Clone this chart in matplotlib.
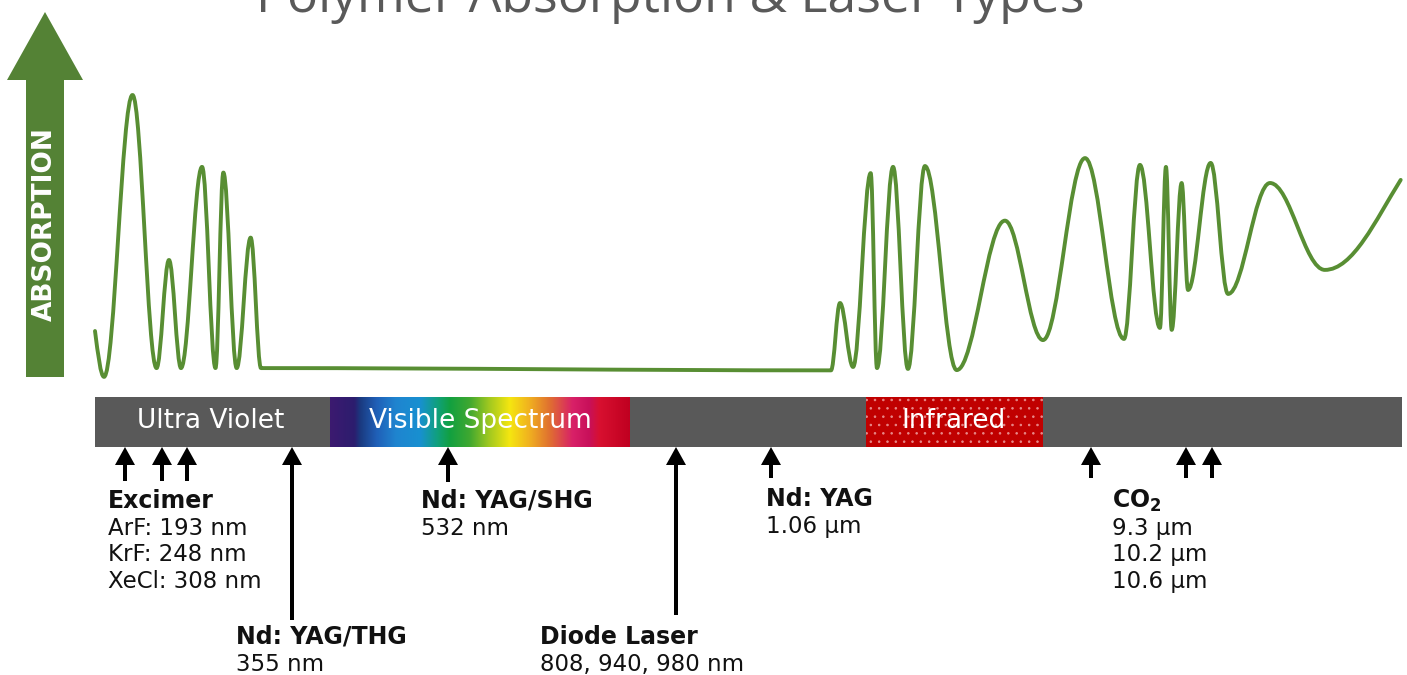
import numpy as np
import matplotlib
matplotlib.use("Agg")
import matplotlib.pyplot as plt
from matplotlib.path import Path
from matplotlib.patches import PathPatch, Rectangle
from matplotlib.colors import LinearSegmentedColormap

plt.rcParams["hatch.linewidth"] = 0.6

# ---------------- data ----------------
title = "Polymer Absorption & Laser Types"
y_label = "ABSORPTION"

# absorption curve: extrema
# spectral position (0-100 along the band) and absorption (0-100)
curve_pos = [0.0, 0.69, 2.87, 4.71, 5.66, 6.58, 8.19, 9.22, 9.82, 10.84, 11.91, 12.70,
             56.31, 57.0, 58.0, 59.35, 59.83, 61.06, 62.2, 63.5, 65.93, 69.62, 72.53,
             75.75, 78.73, 79.95, 81.48, 81.94, 82.38, 83.14, 83.63, 85.36, 86.69,
             89.9, 94.1, 99.9]
curve_abs = [16.6, 0.4, 100.0, 3.5, 41.7, 3.5, 74.6, 3.5, 72.6, 3.5, 49.6, 3.5,
             2.7, 26.5, 3.9, 72.4, 3.5, 74.6, 3.2, 74.9, 2.8, 55.6, 13.4,
             77.7, 13.8, 75.3, 17.7, 74.6, 17.0, 68.9, 31.1, 76.0, 29.7,
             68.9, 38.2, 70.0]

bands = ["Ultra Violet", "Visible Spectrum", "Infrared"]

laser_titles = ["Excimer", "Nd: YAG/THG", "Nd: YAG/SHG", "Diode Laser", "Nd: YAG",
                r"CO$_{\mathbf{2}}$"]
laser_lines = [["ArF: 193 nm", "KrF: 248 nm", "XeCl: 308 nm"],
               ["355 nm"],
               ["532 nm"],
               ["808, 940, 980 nm"],
               ["1.06 \u00b5m"],
               ["9.3 \u00b5m", "10.2 \u00b5m", "10.6 \u00b5m"]]

# ---------------- layout ----------------
W, H = 1407, 675
fig = plt.figure(figsize=(W / 100, H / 100), dpi=100)
ax = fig.add_axes([0, 0, 1, 1])
ax.set_xlim(0, W)
ax.set_ylim(H, 0)
ax.axis("off")

TXT = "#111111"
GREEN_ARROW = "#548235"
GREEN_LINE = "#588e33"
GRAY = "#595959"

# title (cut at the top, as in the reference)
ax.text(670, 12, title, ha="center", va="baseline", fontsize=37.3,
        color=GRAY, family=["Open Sans", "DejaVu Sans"])

# ABSORPTION arrow
ax.arrow(45, 377, 0, -365, width=38, head_width=76, head_length=68,
         length_includes_head=True, color=GREEN_ARROW, lw=0)
ax.text(45, 224, y_label, rotation=90, ha="center", va="center",
        color="white", fontsize=19, fontweight="bold")

# spectrum band
bar_x0, bar_x1, bar_y0, bar_y1 = 95, 1402, 397, 447
ax.add_patch(Rectangle((bar_x0, bar_y0), bar_x1 - bar_x0, bar_y1 - bar_y0,
                       facecolor=GRAY, edgecolor="none", zorder=1))

stops = [(0.0, "#3c1a70"), (0.08, "#2c1d6e"), (0.10, "#1a3a80"), (0.155, "#2060b8"),
         (0.22, "#1f85d0"), (0.30, "#1890d0"), (0.355, "#10a080"), (0.40, "#12a040"),
         (0.466, "#40a830"), (0.53, "#a0c820"), (0.60, "#f5e610"), (0.666, "#f0b020"),
         (0.733, "#e07030"), (0.81, "#d82068"), (0.866, "#c8105a"), (0.90, "#d81030"),
         (1.0, "#c00020")]
cmap = LinearSegmentedColormap.from_list("vis", stops)
grad = np.linspace(0, 1, 512)[None, :]
ax.imshow(grad, cmap=cmap, aspect="auto", extent=(330, 630, bar_y1, bar_y0),
          zorder=2, interpolation="bilinear")
ax.set_xlim(0, W)
ax.set_ylim(H, 0)

ax.add_patch(Rectangle((866, bar_y0), 1043 - 866, bar_y1 - bar_y0,
                       facecolor="#c00000", edgecolor="#e88a8a", lw=0,
                       hatch="..", zorder=2))

band_x = [211, 480, 954]
for name, bx in zip(bands, band_x):
    ax.text(bx, 421, name, ha="center", va="center", color="white",
            fontsize=19, zorder=5)

# laser arrows
def up_arrow(x, tail):
    ax.arrow(x, tail, 0, bar_y1 - tail, width=4, head_width=20, head_length=18,
             length_includes_head=True, color="black", lw=0, zorder=4)

for x in [125, 162, 187]:
    up_arrow(x, 481)
up_arrow(292, 620)
up_arrow(448, 482)
up_arrow(676, 615)
up_arrow(771, 478)
for x in [1091, 1186, 1212]:
    up_arrow(x, 478)

label_xy = [(108, 508), (236, 644), (421, 508), (540, 644), (766, 506), (1112, 508)]
step = 26.7
FS = 16.5
for t, lines, (lx, ly) in zip(laser_titles, laser_lines, label_xy):
    ax.text(lx, ly, t, ha="left", va="baseline", fontsize=17,
            fontweight="bold", color=TXT)
    for i, ln in enumerate(lines):
        ax.text(lx, ly + step * (i + 1), ln, ha="left", va="baseline",
                fontsize=FS, color=TXT)

# ---------------- absorption curve ----------------
axc = fig.add_axes([95 / W, (H - 378) / H, 1307 / W, 283 / H])
axc.set_xlim(0, 100)
axc.set_ylim(0, 100)
axc.axis("off")
axc.patch.set_alpha(0)

k = 0.37
n = len(curve_pos)
verts = [(curve_pos[0], curve_abs[0])]
codes = [Path.MOVETO]
for i in range(n - 1):
    x0, y0 = curve_pos[i], curve_abs[i]
    x1, y1 = curve_pos[i + 1], curve_abs[i + 1]
    dx = x1 - x0
    if i == 0:
        c1 = (x0 + dx / 3, y0 + (y1 - y0) / 2)
    else:
        c1 = (x0 + k * dx, y0)
    if i == n - 2:
        c2 = (x1 - dx / 3, y1 - (y1 - y0) * 0.45)
    else:
        c2 = (x1 - k * dx, y1)
    verts += [c1, c2, (x1, y1)]
    codes += [Path.CURVE4] * 3
axc.add_patch(PathPatch(Path(verts, codes), facecolor="none",
                        edgecolor=GREEN_LINE, lw=2.8, capstyle="round",
                        joinstyle="round", clip_on=False))

fig.savefig("out.png", dpi=100)
